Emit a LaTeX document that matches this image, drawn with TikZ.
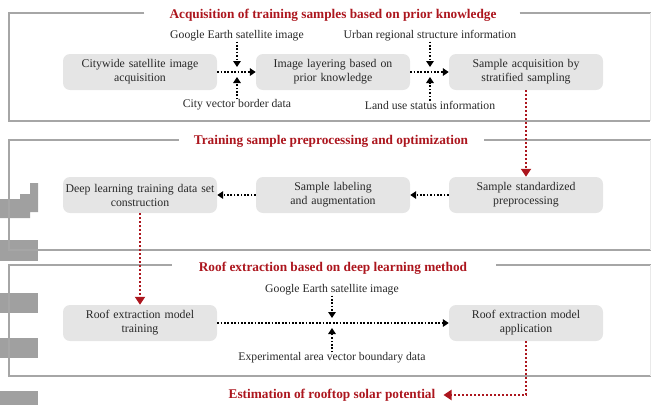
\documentclass[tikz,border=0pt]{standalone}
\usepackage{fontspec}
\setmainfont{Liberation Serif}
\usepackage{tikz}
\usetikzlibrary{arrows.meta, positioning, calc}
\definecolor{framegray}{RGB}{166, 166, 166}
\definecolor{boxgray}{RGB}{229, 229, 229}
\definecolor{darkred}{RGB}{172, 22, 30}
\definecolor{blockgray}{RGB}{160, 160, 160}
\definecolor{ink}{RGB}{40, 40, 40}
\tikzstyle{stage} = [rectangle, rounded corners=7pt, minimum width=154pt, minimum height=36pt, text width=150pt, align=center, fill=boxgray, text=ink, font=\fontsize{11.8}{14}\selectfont, inner sep=0pt]
\tikzstyle{title} = [font=\fontsize{13.3}{15}\selectfont\bfseries, text=darkred, inner sep=0pt]
\tikzstyle{source} = [font=\fontsize{11.7}{14}\selectfont, text=ink, inner sep=0pt]
\tikzstyle{frame} = [draw=framegray, line width=2pt]
\tikzstyle{flow} = [line width=1.7pt, dash pattern=on 1.7pt off 1.7pt, -{Triangle[length=6pt, width=7.5pt]}]
\tikzstyle{redflow} = [flow, draw=darkred, line width=2pt, dash pattern=on 2pt off 2pt, -{Triangle[length=8pt, width=10pt, fill=darkred]}]

\begin{document}
\begin{tikzpicture}[x=1pt, y=-1pt]
    \useasboundingbox (0,0) rectangle (651,405);

    % Blocks on the left edge
    \fill[blockgray] (0,199) -- (20,199) -- (20,194) -- (30,194) -- (30,183) -- (38,183) -- (38,212) -- (30,212) -- (30,218) -- (0,218) -- cycle;
    \fill[blockgray] (0,240) rectangle (38,261);
    \fill[blockgray] (0,293) rectangle (38,313);
    \fill[blockgray] (0,338) rectangle (38,358);
    \fill[blockgray] (0,391) rectangle (38,405);

    % Section titles
    \node[title] (t1) at (333,15) {Acquisition of training samples based on prior knowledge};
    \node[title] (t2) at (331,141) {Training sample preprocessing and optimization};
    \node[title] (t3) at (333,268) {Roof extraction based on deep learning method};
    \node[title] (t4) at (332,395) {Estimation of rooftop solar potential};

    % Frames
    \draw[frame] ($(t1.west)+(-25,-2)$) -- (9,13) -- (9,121) -- (650,121);
    \draw[frame] ($(t1.east)+(23,-2)$) -- (651,13);
    \draw[framegray!25, line width=1pt] (650,13) -- (650,121);
    \draw[frame] ($(t2.west)+(-15,-1)$) -- (9,140) -- (9,250) -- (651,250);
    \draw[frame] ($(t2.east)+(16,-1)$) -- (651,140);
    \draw[framegray!25, line width=1pt] (650,140) -- (650,250);
    \draw[frame] ($(t3.west)+(-27,-3)$) -- (9,265) -- (9,376) -- (651,376);
    \draw[frame] ($(t3.east)+(29,-3)$) -- (651,265);
    \draw[framegray!25, line width=1pt] (650,265) -- (650,376);

    % Stage 1
    \node[stage] (city) at (140,72) {Citywide satellite image\\acquisition};
    \node[stage] (layer) at (333,72) {Image layering based on\\prior knowledge};
    \node[stage] (strat) at (526,72) {Sample acquisition by\\stratified sampling};

    % Stage 2
    \node[stage] (dlset) at (140,195) {Deep learning training data set\\construction};
    \node[stage] (label) at (333,195) {Sample labeling\\and augmentation};
    \node[stage] (norm) at (526,195) {Sample standardized\\preprocessing};

    % Stage 3
    \node[stage] (train) at (140,323) {Roof extraction model\\training};
    \node[stage] (apply) at (526,323) {Roof extraction model\\application};

    % Data sources
    \node[source] (gee1) at (237,36) {Google Earth satellite image};
    \node[source] (border) at (237,105) {City vector border data};
    \node[source] (urban) at (430,36) {Urban regional structure information};
    \node[source] (landuse) at (430,105) {Land use status information};
    \node[source] (gee2) at (332,290) {Google Earth satellite image};
    \node[source] (area) at (332,358) {Experimental area vector boundary data};

    \coordinate (j1) at (237,72);
    \coordinate (j2) at (430,72);
    \coordinate (j3) at (332,323);
    \coordinate (bend) at (526,395);

    % Arrows
    \draw[flow] (city) -- (layer);
    \draw[flow] (gee1) -- ($(j1)+(0,-5)$);
    \draw[flow] (border) -- ($(j1)+(0,5)$);
    \draw[flow] (layer) -- (strat);
    \draw[flow] (urban) -- ($(j2)+(0,-5)$);
    \draw[flow] (landuse) -- ($(j2)+(0,5)$);
    \draw[flow] (norm) -- (label);
    \draw[flow] (label) -- (dlset);
    \draw[flow] (train) -- (apply);
    \draw[flow] (gee2) -- ($(j3)+(0,-5)$);
    \draw[flow] (area) -- ($(j3)+(0,5)$);

    \draw[redflow] (strat) -- (norm);
    \draw[redflow] (dlset) -- (train);
    \draw[redflow] (apply.south) -- (bend) -- ($(t4.east)+(8,0)$);
\end{tikzpicture}
\end{document}
